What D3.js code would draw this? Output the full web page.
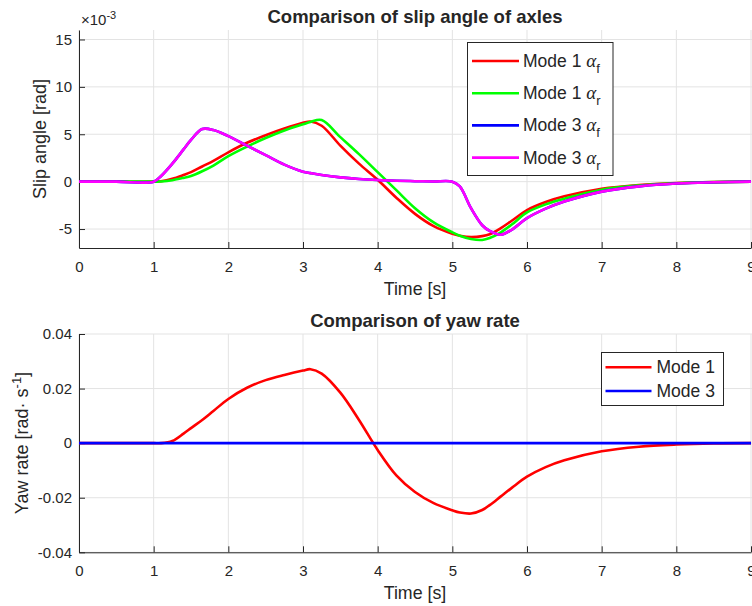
<!DOCTYPE html>
<html>
<head>
<meta charset="utf-8">
<script src="https://cdn.jsdelivr.net/npm/d3@7"></script>
<style>
body{margin:0;background:#fff;}
text{font-family:"Liberation Sans",Arial,Helvetica,sans-serif;fill:#262626;}
</style>
</head>
<body>
<script>
//time samples [s]
var time = [0,0.5,1,1.1,1.25,1.4,1.5,1.65,1.8,2,2.25,2.5,2.75,3,3.1,3.25,3.5,3.75,4,4.25,4.5,4.75,5,5.1,5.25,5.4,5.5,5.65,5.8,6,6.25,6.5,7,7.5,8,8.5,9];

//slip angles, x1e-3 rad
var mode1Af = [0,0,0,0.05,0.3,0.7,1.0,1.6,2.2,3.1,4.1,4.9,5.6,6.2,6.35,5.9,3.8,1.9,0.2,-1.7,-3.4,-4.7,-5.5,-5.7,-5.85,-5.75,-5.55,-4.9,-4.1,-3.0,-2.15,-1.55,-0.75,-0.35,-0.15,-0.05,0];
var mode1Ar = [0,0,0,0.02,0.15,0.4,0.6,1.1,1.7,2.7,3.7,4.6,5.4,6.05,6.3,6.5,4.7,2.9,1.0,-0.9,-2.8,-4.3,-5.35,-5.7,-6.05,-6.15,-5.95,-5.35,-4.5,-3.25,-2.4,-1.8,-0.85,-0.4,-0.17,-0.05,0];
var mode3Af = [0,0,0,0.6,1.9,3.4,4.4,5.55,5.45,4.8,3.8,2.8,1.8,1.05,0.9,0.7,0.45,0.28,0.17,0.1,0.05,0.02,0,-0.5,-2.8,-4.6,-5.2,-5.6,-5.05,-3.85,-2.85,-2.1,-1.05,-0.5,-0.2,-0.07,0];
var mode3Ar = [0,0,0,0.6,1.9,3.4,4.4,5.55,5.45,4.8,3.8,2.8,1.8,1.05,0.9,0.7,0.45,0.28,0.17,0.1,0.05,0.02,0,-0.5,-2.8,-4.6,-5.2,-5.6,-5.05,-3.85,-2.85,-2.1,-1.05,-0.5,-0.2,-0.07,0];

//yaw rate, rad/s
var yaw1 = [0,0,0,0,0.0008,0.0035,0.0055,0.0085,0.0118,0.0162,0.0203,0.0231,0.0250,0.0266,0.0271,0.0255,0.0185,0.0085,-0.0025,-0.0118,-0.0179,-0.0220,-0.0246,-0.0254,-0.0258,-0.0245,-0.0227,-0.0195,-0.0163,-0.0123,-0.0088,-0.0063,-0.0030,-0.0013,-0.0005,-0.0001,0];
var yaw3 = [0,0,0,0,0,0,0,0,0,0,0,0,0,0,0,0,0,0,0,0,0,0,0,0,0,0,0,0,0,0,0,0,0,0,0,0,0];

var timeTicks = [0,1,2,3,4,5,6,7,8,9];
var slipTicks = [-5,0,5,10,15];
var yawTicks = [-0.04,-0.02,0,0.02,0.04];

var slipNames = ["Mode 1 ", "Mode 1 ", "Mode 3 ", "Mode 3 "];
var slipSubs = ["f","r","f","r"];
var yawNames = ["Mode 1", "Mode 3"];

var width = 752, height = 606;

var svg = d3.select("body")
    .append("svg")
    .attr("width", width)
    .attr("height", height);

//draw one subplot
function drawPanel(cfg){
    var x = d3.scaleLinear().domain([0, 9]).range([79, 751]);
    var y = d3.scaleLinear().domain(cfg.yDomain).range([cfg.bottom, cfg.top]);
    var g = svg.append("g");

    //grid
    g.selectAll(".vgrid").data(timeTicks).enter().append("line")
        .attr("x1", d => x(d)).attr("x2", d => x(d))
        .attr("y1", cfg.top).attr("y2", cfg.bottom)
        .attr("stroke", "#e3e3e3").attr("stroke-width", 1);
    g.selectAll(".hgrid").data(cfg.yTicks).enter().append("line")
        .attr("x1", 79).attr("x2", 752)
        .attr("y1", d => y(d)).attr("y2", d => y(d))
        .attr("stroke", "#e3e3e3").attr("stroke-width", 1);

    //axes
    var xAxis = g.append("g")
        .attr("transform", "translate(0," + cfg.bottom + ")")
        .call(d3.axisBottom(x).tickValues(timeTicks).tickSizeInner(-6).tickSizeOuter(0).tickPadding(13));
    var yAxis = g.append("g")
        .attr("transform", "translate(79,0)")
        .call(d3.axisLeft(y).tickValues(cfg.yTicks).tickFormat(cfg.fmt).tickSizeInner(-6).tickSizeOuter(0).tickPadding(7));
    [xAxis, yAxis].forEach(function(a){
        a.selectAll("path,line").attr("stroke", "#262626");
        a.selectAll("text").attr("font-size", 15).attr("fill", "#262626")
            .attr("font-family", "'Liberation Sans',Arial,sans-serif");
    });

    //lines
    var clipId = "clip" + Math.round(cfg.top);
    svg.append("clipPath").attr("id", clipId).append("rect")
        .attr("x", 79).attr("y", cfg.top - 3).attr("width", 680).attr("height", cfg.bottom - cfg.top + 6);
    var line = d3.line()
        .x((d, i) => x(time[i]))
        .y(d => y(d))
        .curve(d3.curveCatmullRom.alpha(0.5));
    g.append("g").attr("clip-path", "url(#" + clipId + ")")
        .selectAll("path").data(cfg.series).enter().append("path")
        .attr("d", d => line(d.values))
        .attr("fill", "none")
        .attr("stroke", d => d.color)
        .attr("stroke-width", 2.6)
        .attr("stroke-linejoin", "round");

    //title and labels
    svg.append("text").attr("x", 415).attr("y", cfg.top - 7)
        .attr("text-anchor", "middle").attr("font-size", 18.5).attr("font-weight", "bold")
        .attr("fill", "#000").text(cfg.title);
    svg.append("text").attr("x", 415).attr("y", cfg.bottom + 47)
        .attr("text-anchor", "middle").attr("font-size", 17.8).text("Time [s]");
    return {x: x, y: y};
}

drawPanel({
    top: 30, bottom: 248, yDomain: [-7, 16], yTicks: slipTicks,
    fmt: d => String(d).replace("\u2212", "-"),
    title: "Comparison of slip angle of axles",
    series: [
        {values: mode1Af, color: "#ff0000"},
        {values: mode1Ar, color: "#00ff00"},
        {values: mode3Af, color: "#0000ff"},
        {values: mode3Ar, color: "#ff00ff"}
    ]
});

drawPanel({
    top: 334, bottom: 552.3, yDomain: [-0.04, 0.04], yTicks: yawTicks,
    fmt: d => d === 0 ? "0" : d.toFixed(2),
    title: "Comparison of yaw rate",
    series: [
        {values: yaw1, color: "#ff0000"},
        {values: yaw3, color: "#0000ff"}
    ]
});

//y labels
svg.append("text").attr("transform", "translate(46,139) rotate(-90)")
    .attr("text-anchor", "middle").attr("font-size", 18).text("Slip angle [rad]");
var yl = svg.append("text").attr("transform", "translate(28,443) rotate(-90)")
    .attr("text-anchor", "middle").attr("font-size", 18);
yl.append("tspan").text("Yaw rate [rad\u00b7 s");
yl.append("tspan").attr("font-size", 13).attr("dy", -7).text("-1");
yl.append("tspan").attr("dy", 7).text("]");

//exponent label
var ex = svg.append("text").attr("x", 81).attr("y", 25).attr("font-size", 15);
ex.append("tspan").text("\u00d710");
ex.append("tspan").attr("font-size", 11).attr("dy", -6).text("-3");

//legends
var slipColors = ["#ff0000", "#00ff00", "#0000ff", "#ff00ff"];
var lg1 = svg.append("g");
lg1.append("rect").attr("x", 467.5).attr("y", 42.5).attr("width", 145.5).attr("height", 133)
    .attr("fill", "#fff").attr("stroke", "#262626").attr("stroke-width", 1);
slipNames.forEach(function(n, i){
    var cy = 61 + i * 32.2;
    lg1.append("line").attr("x1", 472).attr("x2", 519).attr("y1", cy).attr("y2", cy)
        .attr("stroke", slipColors[i]).attr("stroke-width", 2.6);
    var t = lg1.append("text").attr("x", 523).attr("y", cy + 6).attr("font-size", 17.5).attr("fill", "#000");
    t.append("tspan").text(n);
    t.append("tspan").attr("font-family", "'Liberation Serif',serif").attr("font-style", "italic").attr("font-size", 19).text("\u03b1");
    t.append("tspan").attr("font-size", 13).attr("dy", 6).text(slipSubs[i]);
});

var yawColors = ["#ff0000", "#0000ff"];
var lg2 = svg.append("g");
lg2.append("rect").attr("x", 601.5).attr("y", 352.5).attr("width", 122).attr("height", 53)
    .attr("fill", "#fff").attr("stroke", "#262626").attr("stroke-width", 1);
yawNames.forEach(function(n, i){
    var cy = 367.3 + i * 23.7;
    lg2.append("line").attr("x1", 605.5).attr("x2", 651.5).attr("y1", cy).attr("y2", cy)
        .attr("stroke", yawColors[i]).attr("stroke-width", 2.6);
    lg2.append("text").attr("x", 656.5).attr("y", cy + 6).attr("font-size", 17.5).attr("fill", "#000").text(n);
});
</script>
</body>
</html>
